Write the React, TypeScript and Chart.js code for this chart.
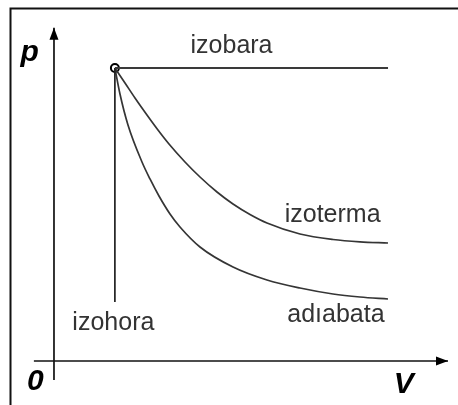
import React, { useEffect, useRef } from "react";
import { Chart, registerables } from "chart.js";

Chart.register(...registerables);

// Volume (V) and pressure (p) values, in arbitrary units
const stateV = [2.0];
const stateP = [10.0];

const isobarV = [2.0, 10.97];
const isobarP = [10.0, 10.0];

const isochoreV = [2.0, 2.0];
const isochoreP = [10.0, 2.01];

const isothermV = [2.0, 2.332, 2.66, 3.054, 3.415, 3.777, 4.302, 4.795, 5.353, 5.879, 6.437, 6.995, 8.079, 9.163, 10.049, 10.969];
const isothermP = [10.0, 9.488, 8.976, 8.396, 7.884, 7.406, 6.792, 6.28, 5.768, 5.358, 5.0, 4.71, 4.334, 4.147, 4.068, 4.027];

const adiabatV = [2.0, 2.167, 2.43, 2.89, 3.153, 3.448, 3.81, 4.138, 4.795, 5.879, 6.995, 8.079, 9.163, 10.049, 10.969];
const adiabatP = [10.0, 9.113, 8.055, 6.792, 6.212, 5.631, 5.017, 4.573, 3.891, 3.208, 2.765, 2.491, 2.287, 2.184, 2.116];

const axisV = [-0.66, 12.94];
const axisP = [-0.65, 11.37];

const X_MIN = -1.773;
const X_MAX = 13.268;
const Y_MIN = -1.502;
const Y_MAX = 12.321;

// Text labels: [text, V, p] (centre, baseline)
const curveLabels: [string, number, number][] = [
  ["izobara", 5.83, 10.51],
  ["izoterma", 9.15, 4.74],
  ["adıabata", 9.26, 1.33],
  ["izohora", 1.95, 1.06],
];
const axisLabels: [string, number, number][] = [
  ["p", -0.8, 10.24],
  ["0", -0.61, -0.99],
  ["V", 11.49, -1.09],
];

const pts = (xs: number[], ys: number[]) => xs.map((x, i) => ({ x, y: ys[i] }));

export default function App() {
  const ref = useRef<HTMLCanvasElement | null>(null);

  useEffect(() => {
    if (!ref.current) return;
    const curve = "#353535";
    const overlay = {
      id: "overlay",
      afterDatasetsDraw(chart: any) {
        const ctx = chart.ctx as CanvasRenderingContext2D;
        const xs = chart.scales.x;
        const ys = chart.scales.y;
        const W = chart.width;
        const H = chart.height;
        ctx.save();
        // frame
        ctx.strokeStyle = "#111";
        ctx.lineWidth = 2;
        ctx.beginPath();
        ctx.moveTo(10.5, H + 2);
        ctx.lineTo(10.5, 8.5);
        ctx.lineTo(W + 2, 8.5);
        ctx.stroke();
        // arrowheads
        ctx.fillStyle = "#000";
        const hx = xs.getPixelForValue(axisV[1]);
        const hy = ys.getPixelForValue(0);
        ctx.beginPath();
        ctx.moveTo(hx, hy);
        ctx.lineTo(hx - 12, hy - 4.5);
        ctx.lineTo(hx - 12, hy + 4.5);
        ctx.closePath();
        ctx.fill();
        const vx = xs.getPixelForValue(0);
        const vy = ys.getPixelForValue(axisP[1]);
        ctx.beginPath();
        ctx.moveTo(vx, vy);
        ctx.lineTo(vx - 4.5, vy + 12);
        ctx.lineTo(vx + 4.5, vy + 12);
        ctx.closePath();
        ctx.fill();
        // labels
        ctx.textAlign = "center";
        ctx.textBaseline = "alphabetic";
        ctx.fillStyle = "#333";
        ctx.font = "25px 'Liberation Sans', Arial, sans-serif";
        for (const [t, v, p] of curveLabels) {
          ctx.fillText(t, xs.getPixelForValue(v), ys.getPixelForValue(p));
        }
        ctx.fillStyle = "#000";
        ctx.font = "italic bold 30px 'Liberation Sans', Arial, sans-serif";
        for (const [t, v, p] of axisLabels) {
          ctx.fillText(t, xs.getPixelForValue(v), ys.getPixelForValue(p));
        }
        ctx.restore();
      },
    };

    const lineDs = (data: any[], color: string, width: number, tension = 0) => ({
      data,
      borderColor: color,
      borderWidth: width,
      pointRadius: 0,
      fill: false,
      tension,
      cubicInterpolationMode: tension ? "monotone" : "default",
      showLine: true,
      clip: false,
    });

    const chart = new Chart(ref.current, {
      type: "scatter",
      data: {
        datasets: [
          lineDs(pts(axisV, [0, 0]), "#111", 1.7),
          lineDs(pts([0, 0], axisP), "#111", 1.7),
          lineDs(pts(isobarV, isobarP), "#3a3a3a", 2),
          lineDs(pts(isochoreV, isochoreP), "#222", 1.7),
          lineDs(pts(isothermV, isothermP), curve, 1.7, 0.4),
          lineDs(pts(adiabatV, adiabatP), curve, 1.7, 0.4),
          {
            data: pts(stateV, stateP),
            showLine: false,
            pointRadius: 4,
            pointBackgroundColor: "#fff",
            pointBorderColor: "#000",
            pointBorderWidth: 2,
            clip: false,
          },
        ] as any,
      },
      options: {
        responsive: false,
        animation: false,
        devicePixelRatio: 1,
        layout: { padding: 0, autoPadding: false },
        plugins: { legend: { display: false }, tooltip: { enabled: false } },
        events: [],
        scales: {
          x: { type: "linear", min: X_MIN, max: X_MAX, display: false },
          y: { type: "linear", min: Y_MIN, max: Y_MAX, display: false },
        },
      },
      plugins: [overlay],
    });
    return () => chart.destroy();
  }, []);

  return (
    <div style={{ position: "fixed", left: 0, top: 0, width: 458, height: 405, background: "#fff" }}>
      <canvas ref={ref} width={458} height={405} style={{ display: "block" }} />
    </div>
  );
}
